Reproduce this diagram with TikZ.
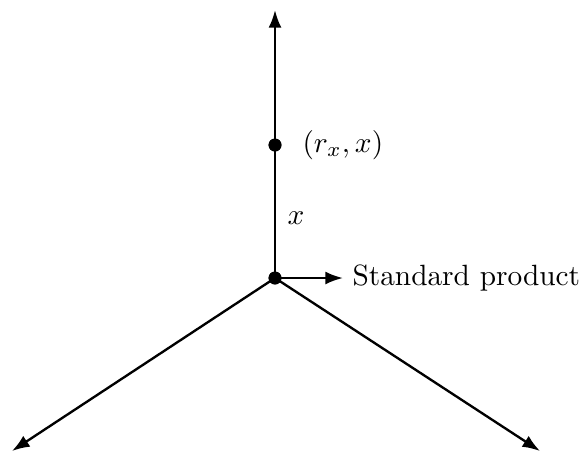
\documentclass[tikz,border=0pt]{standalone}
\usetikzlibrary{arrows.meta}
\begin{document}
\begin{tikzpicture}[x=0.341pt,y=-0.341pt,
  edge/.style={line width=0.8pt,-{Latex[length=6pt,width=4.4pt]}},
  dot/.style={circle,fill=black,inner sep=0pt,minimum size=4.4pt}]
\useasboundingbox (0,0) rectangle (583,452);
\node[dot] (c) at (275,278) {};
\node[dot] (p) at (275,145) {};
\coordinate (top) at (275,10);
\coordinate (bl) at (12,451);
\coordinate (br) at (540,451);
\coordinate (re) at (343,278);
\node[anchor=west,inner sep=0pt] (sp) at (352,278) {Standard product};
\node[anchor=west,inner sep=0pt] (pl) at (302,145) {$(r_x,x)$};
\node (xl) at (296,218) {$x$};
\draw[edge] (c.center) -- (top);
\draw[edge] (c.center) -- (bl);
\draw[edge] (c.center) -- (br);
\draw[edge] (c.center) -- (re);
\node[dot] at (c) {};
\node[dot] at (p) {};
\end{tikzpicture}
\end{document}
